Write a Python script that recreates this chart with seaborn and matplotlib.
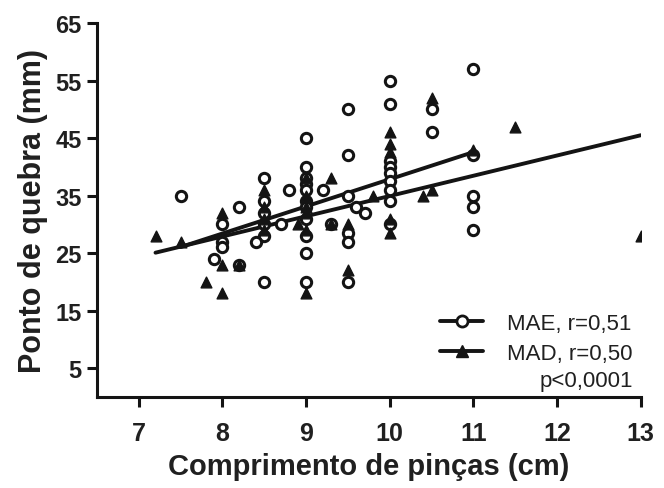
import matplotlib
matplotlib.use("Agg")
import matplotlib.pyplot as plt
from matplotlib.lines import Line2D
import numpy as np
import seaborn as sns

# MAE (open circles)
mae_x = [7.5, 7.9, 8.0, 8.0, 8.0, 8.2, 8.2,
         8.5, 8.5, 8.5, 8.5, 8.5, 8.4, 8.5, 8.7, 8.8,
         9.0, 9.0, 9.0, 9.0, 9.0, 9.0, 9.0, 9.0, 9.0, 9.0, 9.0,
         9.2, 9.3, 9.5, 9.5, 9.5, 9.6, 9.7, 9.5, 9.5, 9.5,
         10.0, 10.0, 10.0, 10.0, 10.0, 10.0, 10.0, 10.0, 10.0,
         10.5, 10.5, 11.0, 11.0, 11.0, 11.0, 11.0]
mae_y = [35, 24, 30, 27, 26, 33, 23,
         38, 34, 32, 30, 28, 27, 20, 30, 36,
         45, 40, 38, 37, 36, 34, 33, 31, 28, 25, 20,
         36, 30, 50, 42, 35, 33, 32, 28.5, 27, 20,
         55, 51, 41, 40, 39, 37.5, 36, 34, 30,
         50, 46, 57, 42, 35, 33, 29]

# MAD (filled triangles)
mad_x = [7.2, 7.5, 7.8, 8.0, 8.0, 8.0, 8.2,
         8.5, 8.5, 8.5, 8.5, 8.9,
         9.0, 9.0, 9.0, 9.0, 9.0, 9.0, 9.3, 9.3, 9.5, 9.5, 9.8,
         10.0, 10.0, 10.0, 10.0, 10.0, 10.4, 10.5, 10.5,
         11.0, 11.5, 13.0]
mad_y = [28, 27, 20, 32, 23, 18, 23,
         36, 33, 31, 29, 30,
         38, 35, 33, 32, 29, 18, 38, 30, 30, 22, 35,
         46, 44, 42.5, 31, 28.5, 35, 36, 52,
         43, 47, 28]

sns.set_style("ticks")
plt.rcParams['font.family'] = ['Liberation Sans', 'DejaVu Sans']
ink = '#141414'

fig = plt.figure(figsize=(6.64, 4.89), dpi=100)
ax = fig.add_axes([0.146, 0.186, 0.819, 0.765])

# regression lines
sns.regplot(x=np.array(mae_x), y=np.array(mae_y), ax=ax, scatter=False, ci=None,
            truncate=True, line_kws=dict(color=ink, lw=2.8))
sns.regplot(x=np.array(mad_x), y=np.array(mad_y), ax=ax, scatter=False, ci=None,
            truncate=True, line_kws=dict(color=ink, lw=2.8))

ax.scatter(mae_x, mae_y, s=55, marker='o', facecolors='white',
           edgecolors=ink, linewidths=2.2, zorder=3)
ax.scatter(mad_x, mad_y, s=60, marker='^', color=ink, zorder=4)

ax.set_xlim(6.5, 13)
ax.set_ylim(0, 65)
ax.set_xticks([7, 8, 9, 10, 11, 12, 13])
ax.set_yticks([5, 15, 25, 35, 45, 55, 65])
sns.despine(ax=ax)
for s in ['left', 'bottom']:
    ax.spines[s].set_linewidth(2.2)
    ax.spines[s].set_color(ink)
ax.tick_params(width=2.2, length=7, color=ink, labelsize=17, pad=4)
ax.tick_params(axis='x', labelsize=18, pad=10)
for lab in ax.get_xticklabels() + ax.get_yticklabels():
    lab.set_fontweight('bold')
    lab.set_color('#202020')

ax.set_xlabel("Comprimento de pinças (cm)", fontsize=21, fontweight='bold',
              color='#202020', labelpad=5)
ax.set_ylabel("Ponto de quebra (mm)", fontsize=22, fontweight='bold',
              color='#202020', labelpad=5)

handles = [
    Line2D([], [], color=ink, lw=2.8, marker='o', mfc='white', mec=ink,
           mew=2.0, ms=8),
    Line2D([], [], color=ink, lw=2.8, marker='^', mfc=ink, mec=ink, ms=8),
]
leg = ax.legend(handles, ["MAE, r=0,51", "MAD, r=0,50"], loc='upper right',
                bbox_to_anchor=(0.985, 0.224), frameon=False, fontsize=16,
                handlelength=1.9, labelspacing=0.4, handletextpad=1.1,
                borderpad=0, borderaxespad=0)
for t in leg.get_texts():
    t.set_color('#202020')
ax.text(0.985, 0.045, "p<0,0001", transform=ax.transAxes, ha='right', va='center',
        fontsize=16, color='#202020')

fig.savefig("out.png", dpi=100)
